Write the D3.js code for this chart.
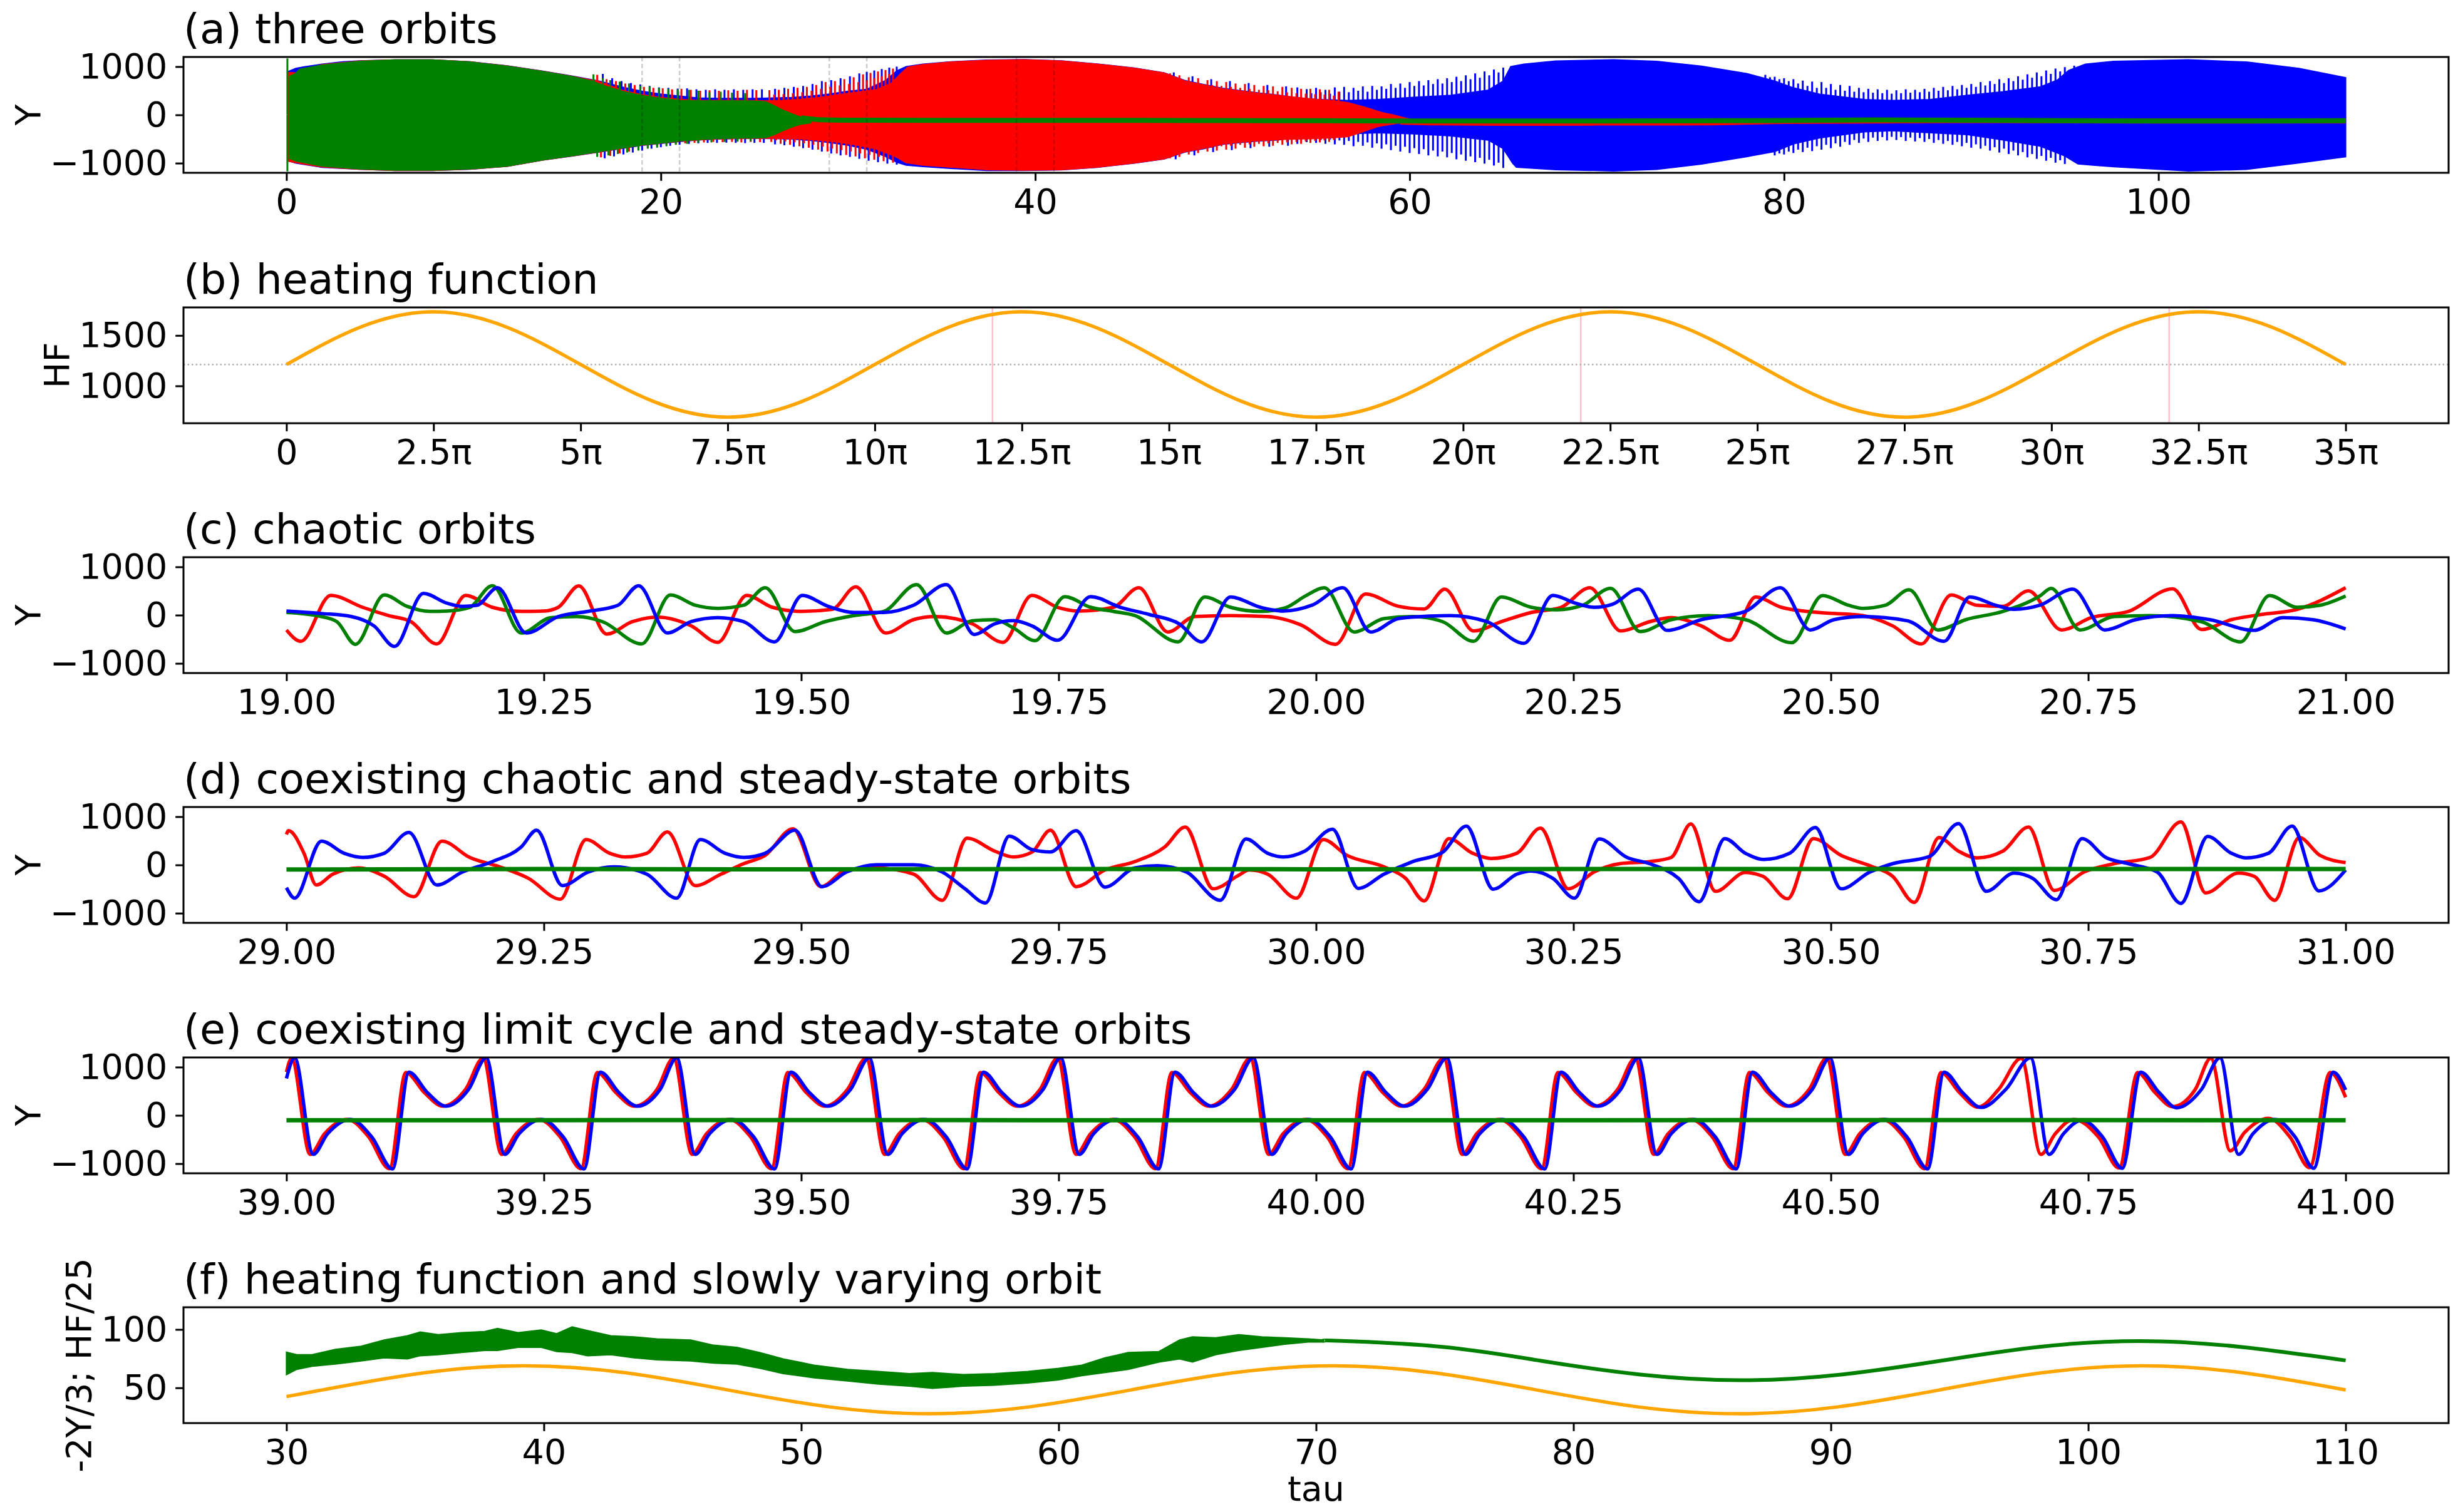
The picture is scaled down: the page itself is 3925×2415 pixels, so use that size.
<!DOCTYPE html>
<html>
<head>
<meta charset="utf-8">
<script src="https://cdn.jsdelivr.net/npm/d3@7"></script>
<style>
  body { margin: 0; background: #fff; overflow: hidden; }
</style>
</head>
<body>
<svg id="chart"></svg>
<script>
// ---------- tick labels ----------
const orbitYTicks = [-1000, 0, 1000];
const tauTicksA = [0, 20, 40, 60, 80, 100];
const hfTickPi = [0, 2.5, 5, 7.5, 10, 12.5, 15, 17.5, 20, 22.5, 25, 27.5, 30, 32.5, 35];
const hfTickLabels = ["0", "2.5π", "5π", "7.5π", "10π", "12.5π", "15π", "17.5π", "20π", "22.5π", "25π", "27.5π", "30π", "32.5π", "35π"];
const hfYTicks = [1000, 1500];
const tauTicksC = [19, 19.25, 19.5, 19.75, 20, 20.25, 20.5, 20.75, 21];
const tauTicksD = [29, 29.25, 29.5, 29.75, 30, 30.25, 30.5, 30.75, 31];
const tauTicksE = [39, 39.25, 39.5, 39.75, 40, 40.25, 40.5, 40.75, 41];
const tauTicksF = [30, 40, 50, 60, 70, 80, 90, 100, 110];
const fYTicks = [50, 100];

// ---------- (a) three orbits: envelopes [tau, Y] ----------
const blueUpperA = [[0.1,900],[0.5,965],[1.0,1000],[1.9,1050],[3.0,1100],[3.9,1120],[5.8,1140],[7.8,1140],[9.8,1100],[11.8,1015],[13.7,905],[15.3,800],[16.7,700],[18,570],[19,490],[20,430],[21,390],[22,350],[23,340],[24,340],[25,340],[26,350],[27,360],[28,390],[29,430],[30,490],[31,530],[32,710],[32.6,910],[33.1,1000],[34,1050],[35.5,1100],[37.4,1135],[39.4,1145],[41.4,1120],[43.3,1055],[45.3,970],[46.9,870],[48,710],[49,630],[50,550],[51,500],[52,450],[53,410],[54.3,330],[56.7,300],[58.3,319],[60.2,362],[62.2,405],[64.2,513],[65.0,700],[65.4,1000],[66.1,1052],[67.8,1116],[70.9,1140],[73.2,1108],[75.6,1008],[78.0,858],[79.5,700],[80.5,560],[81.9,427],[84.3,319],[85.8,297],[87.8,319],[89.8,405],[91.7,480],[93.7,580],[94.6,720],[95.2,920],[96.1,1052],[97.6,1108],[101.6,1140],[104.7,1095],[107.5,965],[110,772]];
const blueLowerA = [[0.1,-950],[0.5,-1000],[1.9,-1085],[3.9,-1125],[5.8,-1150],[7.8,-1150],[9.8,-1125],[11.8,-1065],[13.7,-935],[15.3,-850],[16.7,-770],[18,-690],[19,-630],[20,-590],[21,-550],[22,-520],[23,-500],[24,-490],[25,-488],[26,-490],[27,-500],[28,-530],[29,-570],[30,-630],[31,-710],[32,-860],[32.6,-980],[33.1,-1040],[34,-1070],[35.5,-1110],[37.4,-1150],[39.4,-1150],[41.4,-1138],[43.3,-1085],[45.3,-1000],[46.9,-912],[48,-770],[49,-700],[50,-610],[51,-570],[52,-540],[53,-520],[54.3,-430],[56.7,-392],[58.3,-370],[60.2,-392],[62.2,-435],[64.2,-521],[65.0,-700],[65.5,-1000],[65.7,-1082],[67.8,-1134],[70.9,-1160],[73.2,-1130],[75.6,-1017],[78,-866],[79.5,-760],[80.5,-600],[81.9,-478],[84.3,-349],[85.8,-328],[87.8,-370],[89.8,-410],[91.7,-520],[93.7,-650],[95.0,-850],[95.7,-1017],[96.5,-1040],[97.6,-1073],[101.6,-1160],[104.7,-1130],[107.5,-996],[110,-866]];
const blueSpikesA = [[16.9,850],[17.4,760],[17.9,700],[18.4,660],[18.9,630],[19.4,600],[19.9,570],[20.4,560],[20.9,545],[21.4,550],[21.9,530],[22.4,520],[22.9,530],[23.4,520],[23.9,530],[24.4,520],[24.9,530],[25.4,530],[26.1,540],[26.6,560],[27.1,580],[27.6,600],[28.1,640],[28.6,700],[29.1,720],[29.6,760],[30.1,800],[30.6,860],[31.0,890],[31.4,920],[31.8,950],[32.2,980],[32.6,1000],
  [17.0,-900],[17.5,-860],[18.0,-820],[18.5,-780],[19.0,-740],[19.5,-700],[20.0,-670],[20.5,-640],[21.0,-620],[21.5,-600],[22.0,-590],[22.5,-580],[23.0,-580],[23.5,-575],[24.0,-580],[24.5,-585],[25.0,-580],[25.5,-580],[26.1,-610],[26.6,-630],[27.1,-660],[27.6,-690],[28.1,-720],[28.6,-760],[29.1,-800],[29.6,-840],[30.1,-870],[30.6,-910],[31.1,-950],[31.6,-980],[32.1,-1010],[32.6,-1030],
  [47.4,880],[48.4,800],[49.4,740],[50.4,700],[51.4,660],[52.4,620],[53.4,590],[54.0,570],[47.5,-920],[48.5,-840],[49.5,-770],[50.5,-730],[51.5,-690],[52.5,-660],[53.5,-640],[54.0,-600],
  [54.5,534],[55.0,560],[55.5,520],[56.0,570],[56.5,580],[57.0,560],[57.5,590],[58.0,600],[58.5,590],[59.0,640],[59.5,650],[60.0,680],[60.5,700],[61.0,720],[61.5,740],[62.0,760],[62.5,790],[63.0,820],[63.5,860],[64.0,900],[64.5,940],[65.0,980],
  [54.75,450],[55.25,470],[55.75,440],[56.25,480],[56.75,470],[57.25,500],[57.75,480],[58.25,520],[58.75,540],[59.25,560],[59.75,560],[60.25,600],[60.75,610],[61.25,640],[61.75,650],[62.25,680],[62.75,700],[63.25,740],[63.75,770],[64.25,820],[64.75,880],
  [54.5,-565],[55.0,-580],[55.5,-600],[56.0,-610],[56.5,-620],[57.0,-650],[57.5,-640],[58.0,-680],[58.5,-700],[59.0,-730],[59.5,-760],[60.0,-790],[60.5,-810],[61.0,-840],[61.5,-860],[62.0,-880],[62.5,-920],[63.0,-950],[63.5,-980],[64.0,-1010],[64.5,-1050],[65.0,-1100],
  [54.75,-500],[55.25,-520],[55.75,-510],[56.25,-530],[56.75,-540],[57.25,-560],[57.75,-570],[58.25,-590],[58.75,-610],[59.25,-640],[59.75,-660],[60.25,-690],[60.75,-710],[61.25,-740],[61.75,-760],[62.25,-790],[62.75,-820],[63.25,-860],[63.75,-890],[64.25,-930],[64.75,-990],
  [79.0,830],[79.5,790],[80.0,760],[80.5,740],[81.0,710],[81.5,690],[82.0,680],[82.5,640],[83.0,620],[83.5,600],[84.0,560],[84.5,540],[85.0,530],[85.5,520],[86.0,510],[86.5,530],[87.0,520],[87.5,540],[88.0,560],[88.5,580],[89.0,600],[89.5,620],[90.0,640],[90.5,680],[91.0,700],[91.5,740],[92.0,760],[92.5,800],[93.0,840],[93.5,880],[94.0,920],[94.5,960],[95.0,990],[95.5,1020],
  [79.25,780],[79.75,740],[80.25,700],[80.75,650],[81.25,600],[81.75,560],[82.25,560],[82.75,520],[83.25,500],[83.75,480],[84.25,470],[84.75,460],[85.25,450],[85.75,440],[86.25,450],[86.75,460],[87.25,470],[87.75,480],[88.25,500],[88.75,510],[89.25,530],[89.75,560],[90.25,580],[90.75,610],[91.25,640],[91.75,660],[92.25,700],[92.75,730],[93.25,770],[93.75,800],[94.25,850],[94.75,900],
  [79.5,-840],[80.0,-820],[80.5,-790],[81.0,-770],[81.5,-750],[82.0,-720],[82.5,-690],[83.0,-660],[83.5,-620],[84.0,-580],[84.5,-560],[85.0,-540],[85.5,-530],[86.0,-520],[86.5,-540],[87.0,-550],[87.5,-560],[88.0,-580],[88.5,-600],[89.0,-620],[89.5,-650],[90.0,-680],[90.5,-700],[91.0,-740],[91.5,-780],[92.0,-810],[92.5,-840],[93.0,-880],[93.5,-910],[94.0,-950],[94.5,-990],[95.0,-1017],
  [79.75,-800],[80.25,-760],[80.75,-720],[81.25,-680],[81.75,-650],[82.25,-620],[82.75,-590],[83.25,-560],[83.75,-520],[84.25,-490],[84.75,-470],[85.25,-460],[85.75,-455],[86.25,-460],[86.75,-470],[87.25,-480],[87.75,-500],[88.25,-520],[88.75,-540],[89.25,-560],[89.75,-580],[90.25,-610],[90.75,-640],[91.25,-670],[91.75,-700],[92.25,-740],[92.75,-770],[93.25,-810],[93.75,-850],[94.25,-890],[94.75,-940]];

const redUpperA = [[0.1,880],[0.5,870],[1.9,1040],[3.9,1115],[5.8,1140],[7.8,1140],[9.8,1098],[11.8,1012],[13.7,903],[15.3,796],[16.7,690],[18,500],[19,420],[20,360],[21,320],[22,300],[23,300],[24,300],[25,295],[25.6,290],[26.5,300],[27.5,320],[28.5,360],[29.5,420],[30.5,470],[31.5,520],[32.3,650],[32.8,850],[33.2,990],[34,1040],[35.5,1095],[37.4,1129],[39.4,1140],[41.4,1116],[43.3,1052],[45.3,965],[46.9,866],[48,700],[49,620],[50,540],[51,490],[52,440],[53,400],[54,360],[55,320],[56,290],[56.7,254],[57.5,170],[57.9,125],[58.5,50],[59.1,0],[60.2,-110]];
const redLowerA = [[0.1,-960],[0.5,-990],[1.9,-1078],[3.9,-1125],[5.8,-1150],[7.8,-1150],[9.8,-1123],[11.8,-1063],[13.7,-934],[15.3,-848],[16.7,-765],[18,-685],[19,-625],[20,-585],[21,-545],[22,-515],[23,-495],[24,-485],[25,-483],[25.6,-480],[26.5,-485],[27.5,-495],[28.5,-525],[29.5,-565],[30.5,-625],[31.5,-705],[32.5,-855],[33.1,-990],[34,-1040],[35.5,-1082],[37.4,-1134],[39.4,-1146],[41.4,-1134],[43.3,-1082],[45.3,-996],[46.9,-909],[48,-760],[49,-690],[50,-600],[51,-560],[52,-530],[53,-510],[54,-500],[55,-490],[56,-470],[56.7,-450],[57.5,-349],[58.3,-241],[59.4,-170],[60.2,-160]];
const redSpikesA = [[16.6,830],[17.1,740],[17.6,700],[18.1,650],[18.6,620],[19.1,580],[19.6,560],[20.1,550],[20.6,530],[21.1,540],[21.6,520],[22.1,500],[22.6,510],[23.1,500],[23.6,510],[24.1,500],[24.6,520],[25.1,513],
  [25.8,513],[26.3,520],[26.8,540],[27.3,560],[27.8,580],[28.3,620],[28.8,680],[29.3,700],[29.8,740],[30.3,780],[30.8,840],[31.2,870],[31.6,900],[32.0,930],[32.4,960],
  [26.05,420],[26.55,430],[27.05,450],[27.55,470],[28.05,500],[28.55,540],[29.05,580],[29.55,610],[30.05,640],[30.55,680],[31.0,720],[31.4,760],[31.8,800],[32.2,850],
  [47.2,860],[47.7,820],[48.2,780],[48.7,760],[49.2,720],[49.7,700],[50.2,680],[50.7,650],[51.2,640],[51.7,620],[52.2,600],[52.7,590],[53.2,580],[53.7,560],[54.2,540],[54.7,540],[55.2,530],[55.7,520],[56.2,480],
  [47.45,760],[47.95,700],[48.45,660],[48.95,640],[49.45,620],[49.95,600],[50.45,580],[50.95,560],[51.45,540],[51.95,520],[52.45,510],[52.95,490],[53.45,470],[53.95,450],[54.45,440],[54.95,430],[55.45,420],[55.95,400],
  [16.8,-880],[17.3,-850],[17.8,-800],[18.3,-760],[18.8,-720],[19.3,-690],[19.8,-650],[20.3,-620],[20.8,-600],[21.3,-590],[21.8,-580],[22.3,-570],[22.8,-560],[23.3,-565],[23.8,-560],[24.3,-570],[24.8,-560],[25.3,-565],
  [25.9,-560],[26.4,-600],[26.9,-620],[27.4,-650],[27.9,-680],[28.4,-720],[28.9,-760],[29.4,-800],[29.9,-830],[30.4,-860],[30.9,-900],[31.4,-930],[31.9,-960],[32.4,-990],
  [26.15,-530],[26.65,-550],[27.15,-570],[27.65,-590],[28.15,-620],[28.65,-660],[29.15,-700],[29.65,-730],[30.15,-760],[30.65,-800],[31.15,-830],[31.65,-870],[32.15,-910],
  [47.2,-900],[47.7,-870],[48.2,-820],[48.7,-790],[49.2,-760],[49.7,-740],[50.2,-720],[50.7,-700],[51.2,-680],[51.7,-660],[52.2,-650],[52.7,-640],[53.2,-620],[53.7,-610],[54.2,-600],[54.7,-580],[55.2,-570],[55.7,-560],
  [47.45,-820],[47.95,-780],[48.45,-740],[48.95,-700],[49.45,-680],[49.95,-650],[50.45,-640],[50.95,-620],[51.45,-610],[51.95,-600],[52.45,-590],[52.95,-580],[53.45,-570],[53.95,-560],[54.45,-550],[54.95,-540],[55.45,-530],[55.95,-520]];
const redSteadyA = [[59.5,-150],[61,-165],[65,-175],[70,-170],[76,-165],[80,-135],[90,-120],[100,-128],[110,-125]];

const greenUpperA = [[0.15,800],[0.5,858],[0.7,944],[1.9,1030],[3.9,1108],[5.8,1138],[7.8,1138],[9.8,1095],[11.8,1008],[13.7,900],[15.3,793],[16.3,700],[17,600],[18,480],[19,400],[20,340],[21,300],[22,290],[23,290],[24,290],[25,285],[25.6,270],[26,200],[26.5,100],[27,20],[27.5,-50],[28,-85]];
const greenLowerA = [[0.15,-900],[0.5,-953],[1.9,-1060],[3.9,-1120],[5.8,-1146],[7.8,-1146],[9.8,-1120],[11.8,-1060],[13.7,-931],[15.3,-845],[16.7,-760],[18,-680],[19,-620],[20,-580],[21,-540],[22,-510],[23,-490],[24,-480],[25,-478],[25.6,-470],[26,-420],[26.5,-330],[27,-250],[27.5,-190],[28,-165]];
const greenSpikesA = [[0.05,1170],[0.05,-1170],[16.4,840],[16.9,760],[17.3,720],[17.8,690],[18.3,650],[18.9,600],[19.4,590],[19.9,560],[20.4,540],[20.9,530],[21.5,520],[22.0,500],[22.6,470],[23.2,480],[23.8,460],[24.5,450],
  [16.6,-870],[17.2,-840],[17.7,-810],[18.2,-780],[18.8,-740],[19.3,-700],[19.8,-680],[20.3,-650],[20.8,-620],[21.4,-600],[22.0,-580],[22.7,-570],[23.4,-560],[24.1,-555],[24.8,-550]];
const greenSteadyA = [[27.5,-60],[28.5,-100],[30,-110],[35,-112],[40,-115],[45,-115],[50,-118],[55,-120],[60,-125],[65,-125],[70,-125],[75,-122],[80,-118],[85,-105],[90,-110],[95,-120],[100,-125],[105,-125],[110,-120]];
const zoomWindowTaus = [19, 21, 29, 31, 39, 41];

// ---------- (b) heating function ----------
const hfPi = [0,1.25,2.5,3.75,5,6.25,7.5,8.75,10,11.25,12.5,13.75,15,16.25,17.5,18.75,20,21.25,22.5,23.75,25,26.25,27.5,28.75,30,31.25,32.5,33.75,35];
const hfValues = [1212,1581,1734,1581,1212,843,690,843,1212,1581,1734,1581,1212,843,690,843,1212,1581,1734,1581,1212,843,690,843,1212,1581,1734,1581,1212];
const hfMean = 1212;
const hfMarkerPi = [12, 22, 32];

// ---------- (c) chaotic orbits ----------
const redC = [[19.000,-307],[19.014,-542],[19.043,409],[19.074,162],[19.099,-9],[19.121,-136],[19.146,-597],[19.174,409],[19.200,162],[19.228,77],[19.250,85],[19.264,162],[19.284,605],[19.311,-392],[19.336,-136],[19.361,-43],[19.393,-222],[19.419,-563],[19.447,409],[19.472,162],[19.501,77],[19.530,119],[19.553,588],[19.582,-371],[19.609,-94],[19.630,-30],[19.666,-179],[19.696,-563],[19.724,409],[19.749,162],[19.770,85],[19.803,162],[19.828,567],[19.856,-350],[19.882,-30],[19.917,-9],[19.953,-30],[19.985,-200],[20.019,-605],[20.048,439],[20.080,183],[20.105,128],[20.125,537],[20.153,-328],[20.180,-136],[20.209,55],[20.238,162],[20.266,567],[20.296,-328],[20.324,-136],[20.345,-51],[20.374,-222],[20.402,-520],[20.427,375],[20.452,162],[20.488,55],[20.531,-9],[20.560,-222],[20.588,-597],[20.617,418],[20.642,205],[20.667,183],[20.692,503],[20.724,-307],[20.753,-51],[20.789,77],[20.832,546],[20.860,-298],[20.889,-94],[20.918,13],[20.953,119],[21.000,567]];
const greenC = [[19.000,55],[19.034,-30],[19.049,-136],[19.067,-605],[19.095,418],[19.117,183],[19.139,77],[19.156,85],[19.178,162],[19.200,610],[19.228,-371],[19.257,-51],[19.282,-30],[19.307,-136],[19.345,-597],[19.373,418],[19.397,205],[19.419,141],[19.444,205],[19.465,567],[19.494,-341],[19.523,-136],[19.551,-9],[19.580,77],[19.612,631],[19.641,-371],[19.666,-115],[19.688,-94],[19.706,-264],[19.727,-529],[19.756,384],[19.781,162],[19.803,77],[19.824,-9],[19.866,-554],[19.892,375],[19.917,162],[19.946,77],[19.970,150],[19.990,400],[20.008,567],[20.037,-350],[20.066,-72],[20.094,-30],[20.123,-136],[20.153,-542],[20.180,375],[20.209,162],[20.234,111],[20.259,205],[20.286,554],[20.315,-341],[20.345,-94],[20.381,-9],[20.417,-94],[20.462,-571],[20.492,405],[20.517,205],[20.531,141],[20.553,205],[20.576,524],[20.604,-307],[20.631,-94],[20.667,77],[20.703,397],[20.714,554],[20.742,-307],[20.775,-30],[20.810,-9],[20.860,-136],[20.898,-554],[20.926,405],[20.953,162],[20.975,205],[21.000,397]];
const blueC = [[19.000,85],[19.034,34],[19.063,-30],[19.085,-222],[19.105,-648],[19.133,452],[19.156,247],[19.171,183],[19.185,205],[19.205,567],[19.233,-371],[19.264,-30],[19.293,77],[19.322,205],[19.342,610],[19.370,-371],[19.393,-136],[19.419,-51],[19.444,-136],[19.474,-554],[19.501,409],[19.526,183],[19.551,55],[19.580,55],[19.609,205],[19.641,631],[19.668,-401],[19.688,-179],[19.706,-115],[19.724,-222],[19.749,-520],[19.781,384],[19.810,162],[19.838,13],[19.867,-179],[19.889,-554],[19.917,375],[19.946,162],[19.968,85],[19.996,205],[20.026,567],[20.053,-350],[20.080,-72],[20.102,-30],[20.130,-9],[20.166,-136],[20.202,-584],[20.230,409],[20.252,247],[20.270,162],[20.288,226],[20.313,537],[20.341,-316],[20.374,-94],[20.417,77],[20.451,567],[20.480,-307],[20.503,-94],[20.531,-30],[20.574,-115],[20.610,-542],[20.635,375],[20.660,205],[20.678,119],[20.703,205],[20.735,537],[20.766,-307],[20.796,-94],[20.832,-9],[20.868,-94],[20.911,-316],[20.939,-51],[20.968,-94],[21.000,-286]];

// ---------- (d) coexisting chaotic and steady-state ----------
const redD = [[29.000,632],[29.002,710],[29.017,242],[29.029,-416],[29.045,-191],[29.070,-61],[29.095,-234],[29.124,-658],[29.151,494],[29.178,156],[29.207,-39],[29.235,-277],[29.266,-710],[29.291,524],[29.314,242],[29.329,165],[29.350,242],[29.370,684],[29.397,-429],[29.422,-191],[29.444,26],[29.465,199],[29.492,749],[29.519,-450],[29.544,-104],[29.573,-61],[29.609,-191],[29.637,-732],[29.661,554],[29.688,286],[29.706,165],[29.724,264],[29.742,719],[29.767,-450],[29.795,-104],[29.824,69],[29.853,372],[29.873,784],[29.900,-494],[29.925,-212],[29.935,-104],[29.953,-191],[29.981,-688],[30.007,524],[30.030,199],[30.066,-39],[30.087,-277],[30.105,-745],[30.129,546],[30.152,242],[30.170,134],[30.195,242],[30.218,762],[30.245,-494],[30.270,-147],[30.295,26],[30.324,69],[30.345,156],[30.364,849],[30.388,-546],[30.417,-156],[30.434,-234],[30.458,-701],[30.483,546],[30.510,199],[30.538,-17],[30.560,-234],[30.581,-775],[30.605,567],[30.624,286],[30.642,147],[30.667,286],[30.692,784],[30.717,-528],[30.746,-147],[30.775,26],[30.810,156],[30.840,892],[30.864,-580],[30.896,-169],[30.911,-234],[30.931,-732],[30.955,567],[30.975,199],[31.000,48]];
const blueD = [[29.000,-472],[29.008,-688],[29.034,494],[29.056,242],[29.074,156],[29.095,242],[29.119,675],[29.146,-416],[29.171,-147],[29.200,69],[29.228,372],[29.243,719],[29.268,-429],[29.293,-147],[29.318,-39],[29.350,-191],[29.379,-688],[29.402,524],[29.426,242],[29.444,156],[29.465,242],[29.494,719],[29.520,-450],[29.544,-147],[29.573,4],[29.609,4],[29.637,-147],[29.659,-494],[29.679,-788],[29.702,598],[29.724,320],[29.742,270],[29.767,710],[29.795,-459],[29.824,-61],[29.846,-17],[29.874,-147],[29.907,-732],[29.932,537],[29.953,242],[29.968,165],[29.989,286],[30.016,740],[30.041,-485],[30.066,-191],[30.094,69],[30.123,264],[30.146,805],[30.172,-502],[30.195,-191],[30.209,-126],[30.230,-277],[30.251,-688],[30.275,537],[30.302,156],[30.324,26],[30.352,-277],[30.372,-762],[30.397,546],[30.417,242],[30.435,113],[30.460,242],[30.485,775],[30.510,-494],[30.538,-147],[30.560,26],[30.596,178],[30.624,857],[30.651,-546],[30.678,-169],[30.696,-277],[30.719,-719],[30.744,546],[30.767,156],[30.789,26],[30.817,-147],[30.840,-797],[30.866,589],[30.889,242],[30.903,147],[30.925,242],[30.948,805],[30.974,-537],[31.000,-104]];
const greenD = [[29.0,-95],[29.25,-85],[29.5,-90],[29.75,-85],[30.0,-90],[30.25,-85],[30.5,-85],[30.75,-85],[31.0,-85]];

// ---------- (e) coexisting limit cycle and steady-state ----------
const redE = [[39.000,896],
  [39.005,1185],[39.023,-809],[39.037,-380],[39.059,-83],[39.080,-450],[39.100,-1105],[39.116,890],[39.134,470],[39.152,191],[39.174,540],
  [39.191,1185],[39.209,-809],[39.223,-380],[39.245,-83],[39.266,-450],[39.286,-1105],[39.302,890],[39.320,470],[39.338,191],[39.360,540],
  [39.376,1185],[39.394,-809],[39.408,-380],[39.430,-83],[39.451,-450],[39.471,-1105],[39.487,890],[39.505,470],[39.523,191],[39.545,540],
  [39.563,1185],[39.581,-809],[39.595,-380],[39.617,-83],[39.638,-450],[39.658,-1105],[39.674,890],[39.692,470],[39.710,191],[39.732,540],
  [39.749,1185],[39.767,-809],[39.781,-380],[39.803,-83],[39.824,-450],[39.844,-1105],[39.860,890],[39.878,470],[39.896,191],[39.918,540],
  [39.936,1185],[39.954,-809],[39.968,-380],[39.990,-83],[40.011,-450],[40.031,-1105],[40.047,890],[40.065,470],[40.083,191],[40.105,540],
  [40.124,1185],[40.142,-809],[40.156,-380],[40.178,-83],[40.199,-450],[40.219,-1105],[40.235,890],[40.253,470],[40.271,191],[40.293,540],
  [40.310,1185],[40.328,-809],[40.342,-380],[40.364,-83],[40.385,-450],[40.405,-1105],[40.421,890],[40.439,470],[40.457,191],[40.479,540],
  [40.496,1185],[40.514,-809],[40.528,-380],[40.550,-83],[40.571,-450],[40.591,-1105],[40.607,890],[40.625,470],[40.643,170],[40.663,540],
  [40.685,1185],[40.704,-809],[40.718,-380],[40.736,-83],[40.760,-450],[40.780,-1090],[40.798,890],[40.815,470],[40.832,180],[40.854,540],
  [40.869,1185],[40.888,-735],[40.902,-350],[40.925,-61],[40.946,-450],[40.965,-1083],[40.985,890],[41.000,374]];
const blueE = [[39.000,766],
  [39.008,1192],[39.026,-809],[39.040,-380],[39.062,-83],[39.083,-450],[39.103,-1110],[39.119,896],[39.137,470],[39.155,191],[39.177,540],
  [39.194,1192],[39.212,-809],[39.226,-380],[39.248,-83],[39.269,-450],[39.289,-1110],[39.305,896],[39.323,470],[39.341,191],[39.363,540],
  [39.379,1192],[39.397,-809],[39.411,-380],[39.433,-83],[39.454,-450],[39.474,-1110],[39.490,896],[39.508,470],[39.526,191],[39.548,540],
  [39.566,1192],[39.584,-809],[39.598,-380],[39.620,-83],[39.641,-450],[39.661,-1110],[39.677,896],[39.695,470],[39.713,191],[39.735,540],
  [39.752,1192],[39.770,-809],[39.784,-380],[39.806,-83],[39.827,-450],[39.847,-1110],[39.863,896],[39.881,470],[39.899,191],[39.921,540],
  [39.939,1192],[39.957,-809],[39.971,-380],[39.993,-83],[40.014,-450],[40.034,-1110],[40.050,896],[40.068,470],[40.086,191],[40.108,540],
  [40.127,1192],[40.145,-809],[40.159,-380],[40.181,-83],[40.202,-450],[40.222,-1110],[40.238,896],[40.256,470],[40.274,191],[40.296,540],
  [40.313,1192],[40.331,-809],[40.345,-380],[40.367,-83],[40.388,-450],[40.408,-1110],[40.424,896],[40.442,470],[40.460,191],[40.482,540],
  [40.499,1192],[40.517,-809],[40.531,-380],[40.553,-83],[40.574,-450],[40.594,-1110],[40.610,896],[40.628,470],[40.646,165],[40.670,540],
  [40.694,1192],[40.712,-809],[40.726,-380],[40.744,-100],[40.764,-450],[40.783,-1096],[40.801,896],[40.819,470],[40.836,157],[40.860,540],
  [40.878,1192],[40.896,-809],[40.910,-380],[40.931,-83],[40.951,-450],[40.969,-1096],[40.988,896],[41.000,526]];
const greenE = [[39.0,-100],[39.5,-98],[40.0,-100],[40.5,-98],[41.0,-100]];

// ---------- (f) heating function and slowly varying orbit ----------
const fOrangeTau = [30,31.42,35.34,39.27,43.20,47.12,51.05,54.98,58.90,62.83,66.76,70.69,74.61,78.54,82.47,86.39,90.32,94.25,98.17,102.10,106.03,110];
const fOrangeVal = [42.5,48.3,62.8,68.8,62.8,48.3,33.8,27.8,33.8,48.3,62.8,68.8,62.8,48.3,33.8,27.8,33.8,48.3,62.8,68.8,62.8,48.2];
const fBandTau = [30,30.4,31.0,31.9,32.9,33.8,34.7,35.2,35.9,36.8,37.7,38.2,39.0,39.9,40.5,41.1,41.7,42.6,43.5,44.4,45.7,46.6,47.5,48.4,49.3,50.5,51.8,53.0,54.2,55.1,56.3,57.5,58.8,60.0,60.9,61.8,62.7,63.9,64.7,65.2,66.1,67.0,67.9,68.8,69.7,70.3];
const fBandHigh = [80.6,78.4,78.4,82.9,85.6,91.0,94.6,97.8,95.5,97.3,98.2,100.9,97.3,99.6,96.4,102.2,99.1,94.6,93.7,91.9,91.0,86.5,84.7,80.2,74.8,69.4,65.8,64.0,62.2,63.1,61.3,62.2,64.0,66.7,69.4,75.7,80.2,81.1,91.0,93.7,92.8,95.5,93.7,92.8,91.9,91.0];
const fBandLow = [61.3,65.8,68.5,70.3,73.0,75.7,74.8,77.5,78.4,80.2,82.0,82.0,84.7,84.7,81.1,80.2,77.5,78.4,75.7,73.9,73.0,71.2,70.3,66.7,62.2,58.6,55.9,53.2,51.4,49.6,51.4,52.3,54.1,56.8,60.4,63.1,65.8,72.1,74.8,72.1,78.4,82.0,84.7,87.4,89.2,89.2];
const fGreenTau = [70.3,71.0,74.9,78.7,82.6,86.5,90.4,94.3,98.1,102.0,105.9,110];
const fGreenVal = [90.1,90.2,85.1,73.3,61.4,56.5,61.4,73.3,85.1,90.1,85.1,73.5];

// ---------- layout ----------
const W = 3925, H = 2415;
const plotLeft = 293, plotRight = 3910, panelH = 185;
const panelTops = [91, 491, 890, 1289, 1689, 2088];
const FONT = "DejaVu Sans";
const BLUE = "#0000ff", RED = "#ff0000", GREEN = "#008000", ORANGE = "#ffa500";
const LW = 5.5;

const svg = d3.select("#chart").attr("width", W).attr("height", H)
  .attr("viewBox", `0 0 ${W} ${H}`);
svg.append("rect").attr("width", W).attr("height", H).attr("fill", "#fff");

function makePanel(i, xDomain, yDomain) {
  const top = panelTops[i];
  const x = d3.scaleLinear().domain(xDomain).range([plotLeft, plotRight]);
  const y = d3.scaleLinear().domain(yDomain).range([top + panelH, top]);
  const g = svg.append("g");
  g.append("clipPath").attr("id", "clip" + i)
    .append("rect").attr("x", plotLeft).attr("y", top)
    .attr("width", plotRight - plotLeft).attr("height", panelH);
  const plot = g.append("g").attr("clip-path", `url(#clip${i})`);
  return { g, plot, x, y, top };
}

function decorate(p, o) {
  const { g, x, y, top } = p;
  g.append("rect").attr("x", plotLeft).attr("y", top)
    .attr("width", plotRight - plotLeft).attr("height", panelH)
    .attr("fill", "none").attr("stroke", "#000").attr("stroke-width", 3);
  const styleAxis = a => {
    a.attr("font-size", 55.5).attr("font-family", FONT);
    a.select(".domain").remove();
    a.selectAll(".tick line").attr("stroke", "#000").attr("stroke-width", 3);
    a.selectAll(".tick text").attr("fill", "#000");
  };
  g.append("g").attr("transform", `translate(0,${top + panelH})`)
    .call(d3.axisBottom(x).tickValues(o.xTicks).tickFormat(o.xFormat).tickSize(12.8).tickPadding(12.8))
    .call(styleAxis);
  const yAxis = g.append("g").attr("transform", `translate(${plotLeft},0)`)
    .call(d3.axisLeft(y).tickValues(o.yTicks).tickFormat(o.yFormat).tickSize(12.8).tickPadding(12.8))
    .call(styleAxis);
  const bb = yAxis.node().getBBox();
  g.append("text")
    .attr("transform", `translate(${plotLeft + bb.x - 16},${top + panelH / 2}) rotate(-90)`)
    .attr("text-anchor", "middle").attr("font-size", 55.5).attr("font-family", FONT)
    .text(o.ylabel);
  g.append("text").attr("x", plotLeft).attr("y", top - 22)
    .attr("font-size", 66.7).attr("font-family", FONT).text(o.title);
}

function drawLine(p, data, color, width, curve) {
  const line = d3.line().x(d => p.x(d[0])).y(d => p.y(d[1])).curve(curve || d3.curveMonotoneX);
  p.plot.append("path").attr("d", line(data)).attr("fill", "none")
    .attr("stroke", color).attr("stroke-width", width).attr("stroke-linejoin", "round");
}

function drawEnvelope(p, upper, lower, color) {
  const line = d3.line().x(d => p.x(d[0])).y(d => p.y(d[1]));
  p.plot.append("path").attr("d", line(upper.concat(lower.slice().reverse())) + "Z")
    .attr("fill", color).attr("stroke", color).attr("stroke-width", 2);
}

function drawSpikes(p, spikes, color) {
  p.plot.append("g").selectAll("line").data(spikes).join("line")
    .attr("x1", d => p.x(d[0])).attr("x2", d => p.x(d[0]))
    .attr("y1", p.y(0)).attr("y2", d => p.y(d[1]))
    .attr("stroke", color).attr("stroke-width", 3);
}

const fmtInt = d3.format("d");
const fmt2 = d3.format(".2f");

// (a)
const pa = makePanel(0, [-5.5, 115.5], [-1200, 1200]);
drawEnvelope(pa, blueUpperA, blueLowerA, BLUE);
drawSpikes(pa, blueSpikesA, BLUE);
drawEnvelope(pa, redUpperA, redLowerA, RED);
drawSpikes(pa, redSpikesA, RED);
drawLine(pa, redSteadyA, RED, 8);
drawEnvelope(pa, greenUpperA, greenLowerA, GREEN);
drawSpikes(pa, greenSpikesA, GREEN);
drawLine(pa, greenSteadyA, GREEN, 8);
pa.plot.append("g").selectAll("line").data(zoomWindowTaus).join("line")
  .attr("x1", d => pa.x(d)).attr("x2", d => pa.x(d))
  .attr("y1", pa.top).attr("y2", pa.top + panelH)
  .attr("stroke", "#000").attr("stroke-opacity", 0.2).attr("stroke-width", 2.5)
  .attr("stroke-dasharray", "7 4");
decorate(pa, { xTicks: tauTicksA, xFormat: fmtInt, yTicks: orbitYTicks, yFormat: fmtInt,
  title: "(a) three orbits", ylabel: "Y" });

// (b)
const pb = makePanel(1, [-0.05 * 35 * Math.PI, 1.05 * 35 * Math.PI], [630, 1778]);
pb.plot.append("g").selectAll("line").data(hfMarkerPi).join("line")
  .attr("x1", d => pb.x(d * Math.PI)).attr("x2", d => pb.x(d * Math.PI))
  .attr("y1", pb.top).attr("y2", pb.top + panelH)
  .attr("stroke", "#ffc0cb").attr("stroke-width", 2.5);
pb.plot.append("line").attr("x1", plotLeft).attr("x2", plotRight)
  .attr("y1", pb.y(hfMean)).attr("y2", pb.y(hfMean))
  .attr("stroke", "#b0b0b0").attr("stroke-width", 2.5).attr("stroke-dasharray", "2.5 4");
drawLine(pb, hfPi.map((v, i) => [v * Math.PI, hfValues[i]]), ORANGE, LW, d3.curveNatural);
decorate(pb, { xTicks: hfTickPi.map(v => v * Math.PI), xFormat: (d, i) => hfTickLabels[i],
  yTicks: hfYTicks, yFormat: fmtInt, title: "(b) heating function", ylabel: "HF" });

// (c)
const pc = makePanel(2, [18.9, 21.1], [-1200, 1200]);
drawLine(pc, redC, RED, LW);
drawLine(pc, greenC, GREEN, LW);
drawLine(pc, blueC, BLUE, LW);
decorate(pc, { xTicks: tauTicksC, xFormat: fmt2, yTicks: orbitYTicks, yFormat: fmtInt,
  title: "(c) chaotic orbits", ylabel: "Y" });

// (d)
const pd = makePanel(3, [28.9, 31.1], [-1200, 1200]);
drawLine(pd, redD, RED, LW);
drawLine(pd, blueD, BLUE, LW);
drawLine(pd, greenD, GREEN, 7, d3.curveNatural);
decorate(pd, { xTicks: tauTicksD, xFormat: fmt2, yTicks: orbitYTicks, yFormat: fmtInt,
  title: "(d) coexisting chaotic and steady-state orbits", ylabel: "Y" });

// (e)
const pe = makePanel(4, [38.9, 41.1], [-1200, 1200]);
drawLine(pe, redE, RED, LW);
drawLine(pe, blueE, BLUE, LW);
drawLine(pe, greenE, GREEN, 7, d3.curveNatural);
decorate(pe, { xTicks: tauTicksE, xFormat: fmt2, yTicks: orbitYTicks, yFormat: fmtInt,
  title: "(e) coexisting limit cycle and steady-state orbits", ylabel: "Y" });

// (f)
const pf = makePanel(5, [26, 114], [19.8, 119]);
const bandUpper = fBandTau.map((t, i) => [t, fBandHigh[i]]);
const bandLower = fBandTau.map((t, i) => [t, fBandLow[i]]);
drawEnvelope(pf, bandUpper, bandLower, GREEN);
drawLine(pf, fGreenTau.map((t, i) => [t, fGreenVal[i]]), GREEN, 6, d3.curveNatural);
drawLine(pf, fOrangeTau.map((t, i) => [t, fOrangeVal[i]]), ORANGE, LW, d3.curveNatural);
decorate(pf, { xTicks: tauTicksF, xFormat: fmtInt, yTicks: fYTicks, yFormat: fmtInt,
  title: "(f) heating function and slowly varying orbit", ylabel: "-2Y/3; HF/25" });
svg.append("text").attr("x", (plotLeft + plotRight) / 2).attr("y", 2397)
  .attr("text-anchor", "middle").attr("font-size", 55.5).attr("font-family", FONT).text("tau");
</script>
</body>
</html>
